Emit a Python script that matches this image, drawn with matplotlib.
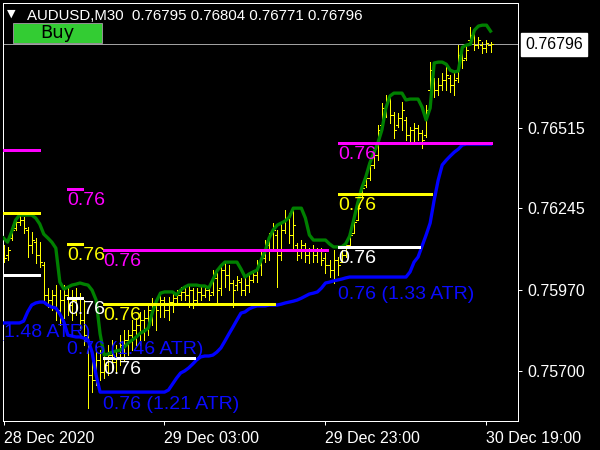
import numpy as np
import matplotlib
matplotlib.use("Agg")
import matplotlib.pyplot as plt
import matplotlib.transforms as mtransforms
import matplotlib.patches as mpatches

plt.rcParams['font.family'] = ['Liberation Sans', 'DejaVu Sans']

symbol = "AUDUSD,M30"

bar_high = [
    0.76122, 0.76116, 0.76189, 0.76213, 0.76220, 0.76216, 0.76183, 0.76166, 0.76146, 0.76132,
    0.76065, 0.75978, 0.75971, 0.75988, 0.75971, 0.75988, 0.75978, 0.75971, 0.75978, 0.75961,
    0.75938, 0.75837, 0.75753, 0.75787, 0.75770, 0.75763, 0.75787, 0.75804, 0.75787, 0.75820,
    0.75837, 0.75837, 0.75871, 0.75877, 0.75898, 0.75904, 0.75921, 0.75944, 0.75938, 0.75961,
    0.75948, 0.75948, 0.75965, 0.75971, 0.75981, 0.75981, 0.75988, 0.75978, 0.75978, 0.75981,
    0.75981, 0.75988, 0.76038, 0.76028, 0.76055, 0.76065, 0.76055, 0.76005, 0.76018, 0.76012,
    0.76012, 0.76022, 0.76038, 0.76072, 0.76106, 0.76139, 0.76163, 0.76196, 0.76173, 0.76196,
    0.76240, 0.76230, 0.76240, 0.76129, 0.76139, 0.76129, 0.76112, 0.76122, 0.76112, 0.76112,
    0.76095, 0.76072, 0.76106, 0.76082, 0.76106, 0.76139, 0.76173, 0.76216, 0.76263, 0.76330,
    0.76364, 0.76407, 0.76441, 0.76525, 0.76598, 0.76625, 0.76615, 0.76568, 0.76565, 0.76602,
    0.76552, 0.76518, 0.76531, 0.76525, 0.76508, 0.76592, 0.76736, 0.76682, 0.76682, 0.76699,
    0.76719, 0.76692, 0.76699, 0.76793, 0.76786, 0.76793, 0.76853, 0.76833, 0.76820, 0.76803,
    0.76810, 0.76804]

bar_low = [
    0.76065, 0.76072, 0.76139, 0.76173, 0.76189, 0.76163, 0.76082, 0.76095, 0.76062, 0.76049,
    0.75928, 0.75914, 0.75904, 0.75871, 0.75854, 0.75877, 0.75888, 0.75871, 0.75888, 0.75837,
    0.75787, 0.75576, 0.75629, 0.75653, 0.75670, 0.75676, 0.75686, 0.75703, 0.75696, 0.75720,
    0.75737, 0.75753, 0.75770, 0.75787, 0.75787, 0.75804, 0.75820, 0.75854, 0.75837, 0.75881,
    0.75881, 0.75871, 0.75898, 0.75921, 0.75938, 0.75938, 0.75914, 0.75911, 0.75928, 0.75938,
    0.75948, 0.75938, 0.75955, 0.75928, 0.75955, 0.75981, 0.75971, 0.75914, 0.75971, 0.75955,
    0.75955, 0.75965, 0.75998, 0.75998, 0.76022, 0.76065, 0.76072, 0.76106, 0.75981, 0.76072,
    0.76163, 0.76129, 0.76106, 0.76072, 0.76079, 0.76065, 0.76062, 0.76065, 0.76065, 0.76055,
    0.76028, 0.76015, 0.75995, 0.76022, 0.76065, 0.76082, 0.76116, 0.76163, 0.76206, 0.76283,
    0.76317, 0.76340, 0.76381, 0.76407, 0.76518, 0.76552, 0.76531, 0.76481, 0.76518, 0.76508,
    0.76474, 0.76464, 0.76468, 0.76474, 0.76448, 0.76485, 0.76632, 0.76619, 0.76625, 0.76642,
    0.76642, 0.76635, 0.76625, 0.76669, 0.76716, 0.76743, 0.76800, 0.76776, 0.76783, 0.76766,
    0.76770, 0.76771]

bar_open = [
    0.76106, 0.76089, 0.76146, 0.76179, 0.76199, 0.76206, 0.76173, 0.76122, 0.76132, 0.76089,
    0.76055, 0.75955, 0.75938, 0.75955, 0.75904, 0.75938, 0.75955, 0.75921, 0.75938, 0.75944,
    0.75871, 0.75820, 0.75686, 0.75670, 0.75737, 0.75696, 0.75720, 0.75753, 0.75730, 0.75770,
    0.75787, 0.75804, 0.75820, 0.75837, 0.75854, 0.75871, 0.75877, 0.75904, 0.75921, 0.75921,
    0.75938, 0.75904, 0.75931, 0.75944, 0.75955, 0.75965, 0.75955, 0.75971, 0.75938, 0.75965,
    0.75955, 0.75971, 0.75965, 0.76012, 0.75978, 0.76038, 0.76022, 0.75995, 0.75988, 0.75998,
    0.75971, 0.75988, 0.76005, 0.76022, 0.76055, 0.76079, 0.76122, 0.76106, 0.76156, 0.76089,
    0.76173, 0.76213, 0.76156, 0.76122, 0.76106, 0.76122, 0.76089, 0.76106, 0.76089, 0.76106,
    0.76079, 0.76055, 0.76038, 0.76072, 0.76065, 0.76089, 0.76122, 0.76163, 0.76206, 0.76290,
    0.76324, 0.76347, 0.76391, 0.76424, 0.76525, 0.76582, 0.76609, 0.76558, 0.76525, 0.76548,
    0.76542, 0.76491, 0.76508, 0.76515, 0.76498, 0.76491, 0.76642, 0.76676, 0.76642, 0.76659,
    0.76676, 0.76682, 0.76659, 0.76682, 0.76760, 0.76750, 0.76810, 0.76827, 0.76793, 0.76793,
    0.76783, 0.76795]

bar_close = [
    0.76079, 0.76106, 0.76173, 0.76199, 0.76206, 0.76179, 0.76122, 0.76139, 0.76089, 0.76065,
    0.75955, 0.75938, 0.75955, 0.75904, 0.75938, 0.75955, 0.75921, 0.75938, 0.75944, 0.75871,
    0.75820, 0.75686, 0.75670, 0.75737, 0.75696, 0.75720, 0.75753, 0.75730, 0.75770, 0.75787,
    0.75804, 0.75820, 0.75837, 0.75854, 0.75871, 0.75877, 0.75904, 0.75921, 0.75904, 0.75938,
    0.75904, 0.75931, 0.75944, 0.75955, 0.75965, 0.75955, 0.75971, 0.75938, 0.75965, 0.75955,
    0.75971, 0.75955, 0.76012, 0.75971, 0.76038, 0.76022, 0.75995, 0.75971, 0.76005, 0.75971,
    0.75988, 0.76005, 0.76022, 0.76055, 0.76079, 0.76122, 0.76106, 0.76173, 0.76089, 0.76173,
    0.76213, 0.76156, 0.76189, 0.76089, 0.76122, 0.76089, 0.76106, 0.76089, 0.76106, 0.76072,
    0.76055, 0.76038, 0.76072, 0.76055, 0.76089, 0.76122, 0.76156, 0.76199, 0.76246, 0.76313,
    0.76347, 0.76391, 0.76424, 0.76508, 0.76582, 0.76609, 0.76558, 0.76508, 0.76548, 0.76575,
    0.76491, 0.76508, 0.76515, 0.76498, 0.76474, 0.76575, 0.76709, 0.76642, 0.76659, 0.76676,
    0.76692, 0.76659, 0.76676, 0.76760, 0.76743, 0.76776, 0.76827, 0.76793, 0.76810, 0.76783,
    0.76800, 0.76796]

green_line = [
    0.76146, 0.76132, 0.76166, 0.76206, 0.76223, 0.76223, 0.76223, 0.76223, 0.76213, 0.76193,
    0.76159, 0.76146, 0.76132, 0.76112, 0.75998, 0.75975, 0.75981, 0.75988, 0.75991, 0.75995,
    0.75991, 0.75988, 0.75971, 0.75938, 0.75824, 0.75753, 0.75757, 0.75763, 0.75767, 0.75770,
    0.75780, 0.75794, 0.75804, 0.75814, 0.75827, 0.75834, 0.75844, 0.75898, 0.75934, 0.75961,
    0.75965, 0.75965, 0.75965, 0.75955, 0.75971, 0.75981, 0.75988, 0.75988, 0.75988, 0.75985,
    0.75985, 0.75978, 0.76005, 0.76035, 0.76052, 0.76065, 0.76065, 0.76065, 0.76065, 0.76042,
    0.76015, 0.76025, 0.76032, 0.76038, 0.76072, 0.76102, 0.76146, 0.76173, 0.76189, 0.76196,
    0.76203, 0.76216, 0.76246, 0.76246, 0.76246, 0.76213, 0.76156, 0.76139, 0.76139, 0.76139,
    0.76139, 0.76126, 0.76116, 0.76116, 0.76116, 0.76126, 0.76152, 0.76206, 0.76263, 0.76313,
    0.76350, 0.76397, 0.76431, 0.76464, 0.76508, 0.76582, 0.76622, 0.76632, 0.76632, 0.76632,
    0.76609, 0.76612, 0.76612, 0.76612, 0.76585, 0.76542, 0.76582, 0.76733, 0.76736, 0.76736,
    0.76729, 0.76709, 0.76703, 0.76706, 0.76786, 0.76793, 0.76796, 0.76843, 0.76857, 0.76860,
    0.76860, 0.76840]

blue_stop = [
    0.75861, 0.75861, 0.75861, 0.75861, 0.75861, 0.75867, 0.75898, 0.75921, 0.75928, 0.75931,
    0.75931, 0.75921, 0.75914, 0.75911, 0.75891, 0.75864, 0.75820, 0.75817, 0.75814, 0.75814,
    0.75810, 0.75804, 0.75763, 0.75686, 0.75629, 0.75629, 0.75629, 0.75629, 0.75629, 0.75629,
    0.75629, 0.75629, 0.75629, 0.75629, 0.75629, 0.75629, 0.75629, 0.75629, 0.75629, 0.75629,
    0.75629, 0.75636, 0.75656, 0.75676, 0.75693, 0.75700, 0.75710, 0.75723, 0.75737, 0.75747,
    0.75750, 0.75750, 0.75753, 0.75763, 0.75777, 0.75800, 0.75824, 0.75847, 0.75871, 0.75894,
    0.75898, 0.75908, 0.75914, 0.75918, 0.75918, 0.75918, 0.75921, 0.75921, 0.75921, 0.75924,
    0.75928, 0.75931, 0.75934, 0.75938, 0.75944, 0.75951, 0.75958, 0.75961, 0.75965, 0.75978,
    0.75995, 0.75998, 0.76002, 0.76005, 0.76008, 0.76012, 0.76015, 0.76015, 0.76015, 0.76015,
    0.76015, 0.76015, 0.76015, 0.76015, 0.76015, 0.76015, 0.76015, 0.76015, 0.76015, 0.76015,
    0.76015, 0.76032, 0.76065, 0.76082, 0.76119, 0.76156, 0.76196, 0.76273, 0.76340, 0.76391,
    0.76407, 0.76421, 0.76434, 0.76444, 0.76458, 0.76461, 0.76461, 0.76461, 0.76461, 0.76461,
    0.76461, 0.76461]

# level groups (bar index where each group starts / ends)
level_start = [-12.3, 15.8, 24.7, 83.1]
magenta_end = [9.1, 19.8, 80.6, 121.4]
magenta_level = [0.76441, 0.76309, 0.76106, 0.76466]
yellow_end = [9.1, 19.8, 67.4, 106.5]
yellow_level = [0.76230, 0.76126, 0.75926, 0.76293]
white_end = [9.1, 19.8, 47.6, 103.5]
white_level = [0.76022, 0.75944, 0.75742, 0.76117]
atr_ratio = [1.48, 1.46, 1.21, 1.33]
atr_label_price = [0.75867, 0.75810, 0.75626, 0.75995]

xtick_bars = [0, 40, 80, 120]
xtick_labels = ["28 Dec 2020", "29 Dec 03:00", "29 Dec 23:00", "30 Dec 19:00"]
ytick_prices = [0.76515, 0.76245, 0.75970, 0.75700]

# ---------------------------------------------------------------------------
W, H, DPI = 600, 450, 100
PX = 72.0 / DPI
XMIN, XMAX = -0.25, 127.83
fig = plt.figure(figsize=(W / DPI, H / DPI), dpi=DPI, facecolor='black')
ax = fig.add_axes([2.5 / W, 29 / H, 515.5 / W, 418.5 / H])
ax.set_facecolor('black')
ax.set_xlim(XMIN, XMAX)
ax.set_ylim(0.75532, 0.76936)

n = len(bar_high)
x = np.arange(n)
ax.vlines(x, bar_low, bar_high, colors='#ffff00', lw=1 * PX, antialiased=False, zorder=2)
ax.hlines(bar_open, x - 0.5, x, colors='#ffff00', lw=1 * PX, antialiased=False, zorder=2)
ax.hlines(bar_close, x, x + 0.5, colors='#ffff00', lw=1 * PX, antialiased=False, zorder=2)

# current bid line
last_close = bar_close[-1]
ax.axhline(last_close, color='#a0a0a0', lw=1 * PX, zorder=1, antialiased=False)

ax.plot(x, green_line, color='#008000', lw=3.3 * PX, zorder=4, solid_joinstyle='round')
ax.plot(x, blue_stop, color='#0000ff', lw=3.3 * PX, zorder=4, solid_joinstyle='round')

lbl_tr = mtransforms.offset_copy(ax.transData, fig=fig, x=0, y=-3, units='dots')
FS = 14
for g in range(len(level_start)):
    for lev, end, col in ((magenta_level[g], magenta_end[g], '#ff00ff'),
                          (yellow_level[g], yellow_end[g], '#ffff00'),
                          (white_level[g], white_end[g], '#ffffff')):
        ax.hlines(lev, level_start[g], end, colors=col, lw=3 * PX, zorder=5, antialiased=False)
        if level_start[g] >= XMIN:  # labels of the first group lie wholly off the chart
            ax.text(level_start[g], lev, f"{lev:.2f}", color=col, fontsize=FS, ha='left',
                    va='top', transform=lbl_tr, clip_on=True, zorder=6)
    ax.text(level_start[g], atr_label_price[g], f"{atr_label_price[g]:.2f} ({atr_ratio[g]:.2f} ATR)",
            color='#0a0aff', fontsize=FS, ha='left', va='top', transform=lbl_tr,
            clip_on=True, zorder=6)

# axes styling
for sp in ax.spines.values():
    sp.set_color('white')
    sp.set_linewidth(1 * PX)
ax.yaxis.tick_right()
ax.set_yticks(ytick_prices, [f"{p:.5f}" for p in ytick_prices])
ax.set_xticks(xtick_bars, xtick_labels, ha='left')
ax.tick_params(axis='y', colors='white', length=3, width=1 * PX, pad=3.5,
               labelsize=11.5, labelcolor='white')
ax.tick_params(axis='x', colors='white', length=4 * PX, width=1 * PX, pad=4,
               labelsize=11.5, labelcolor='white')

# bid price tag on the price scale
tr = mtransforms.blended_transform_factory(ax.transAxes, ax.transData)
ax.text(1.0 + 7 / 515.5, last_close, f"{last_close:.5f}", transform=tr, ha='left', va='center',
        fontsize=11.5, color='black', clip_on=False,
        bbox=dict(boxstyle='square,pad=0.25', fc='white', ec='white'))

# header
fig.text(7 / W, 1 - 14 / H, "\u25bc", color='white', fontsize=8, family='DejaVu Sans',
         ha='left', va='center')
hdr = f"{symbol}  {bar_open[-1]:.5f} {bar_high[-1]:.5f} {bar_low[-1]:.5f} {bar_close[-1]:.5f}"
fig.text(27 / W, 1 - 20.5 / H, hdr, color='white', fontsize=10.8, ha='left', va='baseline')

# Buy button
fig.add_artist(mpatches.Rectangle((13 / W, 1 - 43 / H), 89 / W, 20 / H, transform=fig.transFigure,
                                  fc='#33cc33', ec='#909090', lw=1 * PX))
fig.text(57.5 / W, 1 - 33.5 / H, "Buy", color='black', fontsize=13, family='DejaVu Sans',
         ha='center', va='center')

fig.savefig('out.png', dpi=DPI, facecolor='black')
